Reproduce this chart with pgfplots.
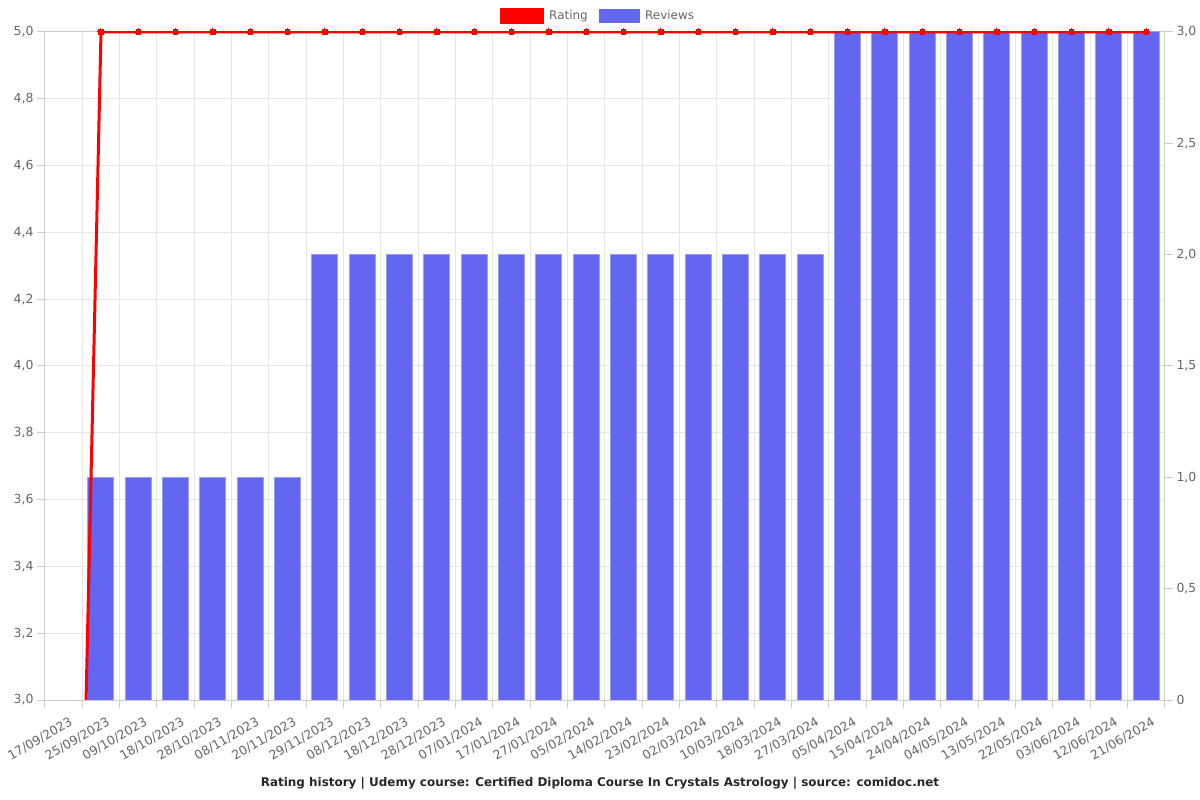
\documentclass[border=0pt]{standalone}
\usepackage{fontspec}
\setmainfont{DejaVu Sans}
\usepackage{pgfplots}
\pgfplotsset{compat=1.18}

\definecolor{ratingred}{HTML}{FF0000}
\definecolor{reviewblue}{HTML}{6366F1}
\definecolor{gridgray}{HTML}{E6E6E6}
\definecolor{axisgray}{HTML}{CCCCCC}
\definecolor{labelgray}{HTML}{666666}

\pgfplotsset{
  chartbase/.style={
    scale only axis, width=1120bp, height=668bp,
    at={(0,0)}, anchor=south west,
    xmin=-0.5, xmax=29.5,
    tick align=outside,
    axis line style={axisgray, line width=1bp},
    tick style={axisgray, line width=1bp},
    major tick length=8bp, minor tick length=8bp,
    tick label style={font=\fontsize{12.5}{14}\selectfont, text=labelgray},
  },
}

\begin{document}
\begin{tikzpicture}
\useasboundingbox (-45bp,-100bp) rectangle (1155bp,700bp);

% grid, left axis and dates
\begin{axis}[chartbase,
  ymin=3, ymax=5,
  ytick={3,3.2,3.4,3.6,3.8,4,4.2,4.4,4.6,4.8,5},
  yticklabels={{3,0},{3,2},{3,4},{3,6},{3,8},{4,0},{4,2},{4,4},{4,6},{4,8},{5,0}},
  xtick={0,...,29},
  xticklabels={17/09/2023,25/09/2023,09/10/2023,18/10/2023,28/10/2023,08/11/2023,
    20/11/2023,29/11/2023,08/12/2023,18/12/2023,28/12/2023,07/01/2024,17/01/2024,
    27/01/2024,05/02/2024,14/02/2024,23/02/2024,02/03/2024,10/03/2024,18/03/2024,
    27/03/2024,05/04/2024,15/04/2024,24/04/2024,04/05/2024,13/05/2024,22/05/2024,
    03/06/2024,12/06/2024,21/06/2024},
  minor xtick={-0.5,0.5,...,29.5},
  major x tick style={draw=none},
  ymajorgrids, xminorgrids,
  major grid style={gridgray, line width=1bp},
  minor grid style={gridgray, line width=1bp},
  ytick pos=left, xtick pos=bottom,
  x tick label style={rotate=30, anchor=north east, inner sep=0pt, xshift=0bp, yshift=-10bp},
]
\end{axis}

% reviews, right axis
\begin{axis}[chartbase,
  ymin=0, ymax=3,
  axis x line=none, axis y line*=right,
  ytick={0,0.5,1,1.5,2,2.5,3},
  yticklabels={0,{0,5},{1,0},{1,5},{2,0},{2,5},{3,0}},
  ybar, bar width=26bp,
]
\addplot[fill=reviewblue, draw=reviewblue!65!white, line width=1bp] coordinates {
  (1,1) (2,1) (3,1) (4,1) (5,1) (6,1)
  (7,2) (8,2) (9,2) (10,2) (11,2) (12,2) (13,2) (14,2) (15,2) (16,2) (17,2) (18,2) (19,2) (20,2)
  (21,3) (22,3) (23,3) (24,3) (25,3) (26,3) (27,3) (28,3) (29,3)
};
\end{axis}

% rating line and legend
\begin{axis}[chartbase,
  ymin=3, ymax=5,
  hide axis, clip=true,
  legend style={draw=none, fill=none, legend columns=2,
    font=\fontsize{12}{14}\selectfont, text=labelgray,
    at={(0.4937,1)}, anchor=center, yshift=16bp,
    /tikz/every odd column/.append style={column sep=4bp},
    /tikz/every even column/.append style={column sep=9bp}},
]
\addplot[ratingred, line width=3bp, mark=*, mark size=3bp,
  mark options={fill=ratingred, draw=ratingred, line width=0pt}, forget plot] coordinates {
  (0,0) (1,5) (2,5) (3,5) (4,5) (5,5) (6,5) (7,5) (8,5) (9,5) (10,5) (11,5) (12,5) (13,5) (14,5)
  (15,5) (16,5) (17,5) (18,5) (19,5) (20,5) (21,5) (22,5) (23,5) (24,5) (25,5) (26,5) (27,5)
  (28,5) (29,5)
};
\addlegendimage{legend image code/.code={\fill[ratingred] (0bp,-7.5bp) rectangle (43bp,7.5bp);}}
\addlegendentry{Rating}
\addlegendimage{legend image code/.code={\fill[reviewblue] (0bp,-6.5bp) rectangle (40bp,6.5bp);}}
\addlegendentry{Reviews}
\end{axis}

\node[font=\bfseries\fontsize{12}{14}\selectfont, text=black!85] at (555bp,-83bp)
  {Rating history | Udemy course: Certified Diploma Course In Crystals Astrology | source: comidoc.net};
\end{tikzpicture}
\end{document}
